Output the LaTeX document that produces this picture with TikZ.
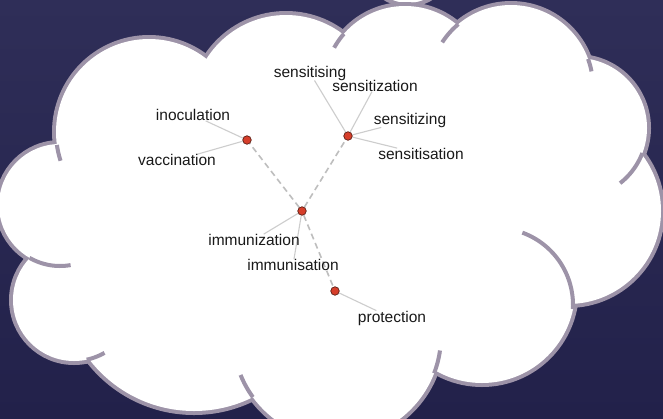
\documentclass[tikz,border=0pt]{standalone}
\usepackage{fontspec}
\setmainfont{Liberation Sans}
\definecolor{navytop}{RGB}{47,46,88}
\definecolor{navybot}{RGB}{34,33,74}
\definecolor{cloudline}{RGB}{157,147,168}
\definecolor{dotred}{RGB}{214,62,42}
\definecolor{dotedge}{RGB}{90,30,20}
\definecolor{dashgray}{RGB}{190,190,190}
\definecolor{leafgray}{RGB}{205,205,205}
\definecolor{labelc}{RGB}{25,25,25}
\pgfdeclarelayer{back}
\pgfdeclarelayer{edges}
\pgfsetlayers{back,edges,main}
\begin{document}
\begin{tikzpicture}[x=1pt,y=-1pt,
  lobe/.style={draw=cloudline,line width=8pt},
  tailarc/.style={draw=cloudline,line width=4pt},
  dot/.style={circle,fill=dotred,draw=dotedge,line width=0.7pt,minimum size=8.5pt,inner sep=0pt},
  link/.style={draw=dashgray,line width=1.6pt,dash pattern=on 6pt off 4pt},
  leaf/.style={draw=leafgray,line width=1.1pt},
  word/.style={font=\fontsize{15.5}{17}\selectfont,text=labelc,inner sep=0pt}]
\useasboundingbox (0,0) rectangle (663,418);
\begin{pgfonlayer}{back}
\clip (0,0) rectangle (663,418);
\shade[top color=navytop,bottom color=navybot] (0,0) rectangle (663,418);
% small bubble
\draw[draw=cloudline,line width=4pt,fill=white] (408,-39) circle[radius=44pt];
% cloud lobes: outline strokes
\foreach \cx/\cy/\r in {149/132/93pt,286/109/94pt,405/87/81pt,511/87/82pt,577/128/70pt,568/211/93pt,482/290/93pt,337/336/104pt,194/279/132pt,74/300/61pt,60/205/61pt}
  \draw[lobe] (\cx,\cy) circle[radius=\r];
% white fill
\foreach \cx/\cy/\r in {149/132/93pt,286/109/94pt,405/87/81pt,511/87/82pt,577/128/70pt,568/211/93pt,482/290/93pt,337/336/104pt,194/279/132pt,74/300/61pt,60/205/61pt}
  \fill[white] (\cx,\cy) circle[radius=\r];
\fill[white] (210,65) -- (343,47) -- (455,38) -- (583,70) -- (630,160) -- (565,300) -- (438,362) -- (252,385) -- (95,345) -- (42,255) -- (65,152) -- cycle;
% inner arcs (tails)
\draw[tailarc] plot[domain=188:198,samples=12] ({149+93*cos(\x)},{132-93*sin(\x)});
\draw[tailarc] plot[domain=240:280,samples=20] ({60+61*cos(\x)},{205-61*sin(\x)});
\draw[tailarc] plot[domain=-78:-60,samples=12] ({74+61*cos(\x)},{300-61*sin(\x)});
\draw[tailarc] plot[domain=202:216,samples=12] ({337+104*cos(\x)},{336-104*sin(\x)});
\draw[tailarc] plot[domain=-21:-8,samples=12] ({337+104*cos(\x)},{336-104*sin(\x)});
\draw[tailarc] plot[domain=-3:70,samples=30] ({496+77*cos(\x)},{305-77*sin(\x)});
\draw[tailarc] plot[domain=-52:-21,samples=16] ({577+70*cos(\x)},{128-70*sin(\x)});
\draw[tailarc] plot[domain=11:20,samples=8] ({511+82*cos(\x)},{87-82*sin(\x)});
\draw[tailarc] plot[domain=130:147,samples=12] ({511+82*cos(\x)},{87-82*sin(\x)});
\draw[tailarc] plot[domain=139:151,samples=12] ({405+81*cos(\x)},{87-81*sin(\x)});
\end{pgfonlayer}
% nodes
\node[dot] (nL) at (247,140) {};
\node[dot] (nS) at (348,136) {};
\node[dot] (nH) at (302,211) {};
\node[dot] (nP) at (335,291) {};
\node[word] (inoc) at (193,115) {inoculation};
\node[word] (vacc) at (177,160) {vaccination};
\node[word] (sing) at (310,73) {sensitising};
\node[word] (sztn) at (375,86) {sensitization};
\node[word] (szng) at (410,120) {sensitizing};
\node[word] (sstn) at (421,154) {sensitisation};
\node[word] (imzn) at (254,240) {immunization};
\node[word] (imsn) at (293,265) {immunisation};
\node[word] (prot) at (392,318) {protection};
\begin{pgfonlayer}{edges}
\draw[link] (nH) -- (nL);
\draw[link] (nH) -- (nS);
\draw[link] (nH) -- (nP);
\draw[leaf] (nL) -- (inoc);
\draw[leaf] (nL) -- (vacc);
\draw[leaf] (nS) -- (sing);
\draw[leaf] (nS) -- (sztn);
\draw[leaf] (nS) -- (szng);
\draw[leaf] (nS) -- (sstn);
\draw[leaf] (nH) -- (imzn);
\draw[leaf] (nH) -- (imsn);
\draw[leaf] (nP) -- (prot);
\end{pgfonlayer}
\end{tikzpicture}
\end{document}
